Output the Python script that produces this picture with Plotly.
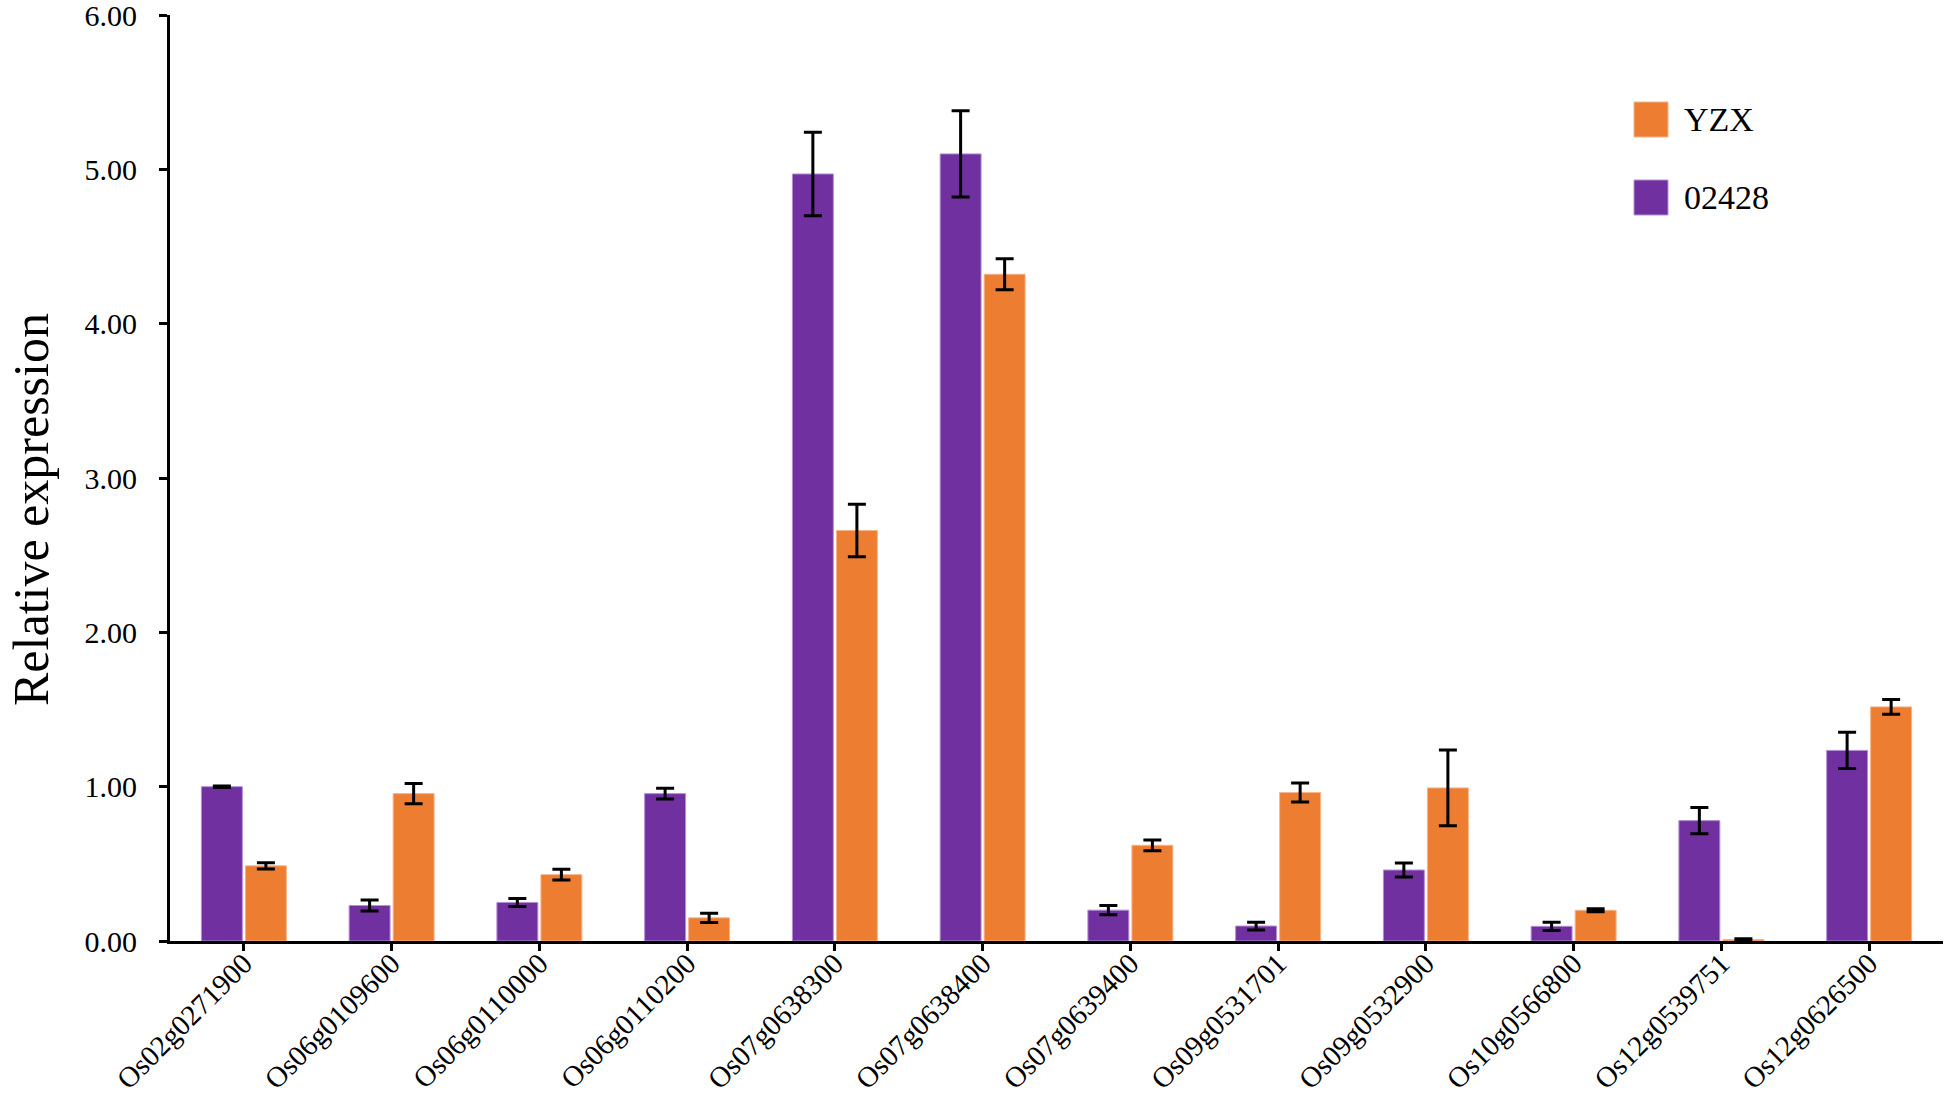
import plotly.graph_objects as go

genes = ["Os02g0271900", "Os06g0109600", "Os06g0110000", "Os06g0110200",
         "Os07g0638300", "Os07g0638400", "Os07g0639400", "Os09g0531701",
         "Os09g0532900", "Os10g0566800", "Os12g0539751", "Os12g0626500"]
series_names = ["02428", "YZX"]
v02428 = [1.00, 0.23, 0.25, 0.955, 4.97, 5.10, 0.20, 0.097, 0.46, 0.095, 0.78, 1.235]
e02428 = [0.005, 0.035, 0.026, 0.035, 0.27, 0.28, 0.03, 0.025, 0.045, 0.027, 0.085, 0.117]
vYZX = [0.487, 0.955, 0.43, 0.15, 2.66, 4.32, 0.62, 0.962, 0.992, 0.199, 0.01, 1.517]
eYZX = [0.02, 0.065, 0.035, 0.03, 0.17, 0.10, 0.035, 0.062, 0.245, 0.01, 0.005, 0.047]
y_ticks = [0, 1, 2, 3, 4, 5, 6]
y_title = "Relative expression"

PURPLE = "#7030A0"
ORANGE = "#ED7D31"
FONT = "Liberation Serif, Times New Roman, serif"

fig = go.Figure()
fig.add_trace(go.Bar(
    name=series_names[0], x=genes, y=v02428,
    marker=dict(color=PURPLE, line=dict(color="#B58ED6", width=1)),
    error_y=dict(type="data", array=e02428, color="black", thickness=3, width=9),
    showlegend=False,
))
fig.add_trace(go.Bar(
    name=series_names[1], x=genes, y=vYZX,
    marker=dict(color=ORANGE, line=dict(color="#F6B48A", width=1)),
    error_y=dict(type="data", array=eYZX, color="black", thickness=3, width=9),
    showlegend=False,
))

W, H = 1946, 1097
L, R, T, B = 170, 3, 15, 156
pw, ph = W - L - R, H - T - B

def px_x(page_x):
    return (page_x - L) / pw

def px_y(page_y):
    return (H - B - page_y) / ph

# legend drawn as squares + text (YZX on top, 02428 below)
legend_items = [(series_names[1], ORANGE, "#F6B48A", 102), (series_names[0], PURPLE, "#B58ED6", 180)]
shapes = []
annotations = []
for name, col, lcol, top in legend_items:
    shapes.append(dict(type="rect", xref="paper", yref="paper",
                       x0=px_x(1634), x1=px_x(1668), y0=px_y(top + 35), y1=px_y(top),
                       fillcolor=col, line=dict(color=lcol, width=1)))
    annotations.append(dict(xref="paper", yref="paper", x=px_x(1682), y=px_y(top + 17.5),
                            text=name, showarrow=False, xanchor="left", yanchor="middle",
                            font=dict(family=FONT, size=34, color="black")))

# y-axis title
annotations.append(dict(xref="paper", yref="paper", x=px_x(1), y=px_y(510),
                        text=y_title, textangle=-90, showarrow=False,
                        xanchor="left", yanchor="middle",
                        font=dict(family=FONT, size=50, color="black")))

fig.update_layout(
    width=W, height=H,
    margin=dict(l=L, r=R, t=T, b=B, autoexpand=False),
    paper_bgcolor="white", plot_bgcolor="white",
    barmode="group", bargap=0.404, bargroupgap=0.07,
    font=dict(family=FONT, color="black"),
    shapes=shapes, annotations=annotations,
    showlegend=False,
)
fig.update_xaxes(
    showline=True, linecolor="black", linewidth=3,
    ticks="outside", ticklen=7, tickwidth=3, tickcolor="black",
    tickangle=-45, tickfont=dict(family=FONT, size=29, color="black"),
    ticklabelstandoff=-16, ticklabeloverflow="allow",
    showgrid=False, zeroline=False, automargin=False,
)
fig.update_yaxes(
    range=[0, 6], tickvals=y_ticks, tickformat=".2f",
    showline=True, linecolor="black", linewidth=3,
    ticks="outside", ticklen=8, tickwidth=3, tickcolor="black",
    tickfont=dict(family=FONT, size=30, color="black"),
    ticklabelstandoff=16, ticklabeloverflow="allow",
    showgrid=False, zeroline=False, automargin=False,
)

fig.write_html("out.html", config={"displayModeBar": False},
               post_script="document.body.style.margin='0';")
